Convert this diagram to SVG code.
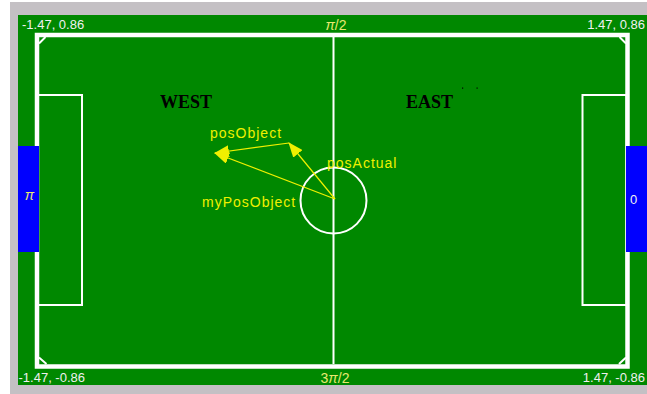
<svg xmlns="http://www.w3.org/2000/svg" width="647" height="394" viewBox="0 0 647 394">
<defs>
<style>
.line{fill:none;stroke:#ffffff;stroke-width:2}
.border{fill:none;stroke:#ffffff;stroke-width:4.5}
.coord{font-family:"Liberation Sans",Arial,sans-serif;font-size:13px;fill:#f0f0f0}
.angle{font-family:"Liberation Sans",Arial,sans-serif;font-size:14px;fill:#e8e870}
.side{font-family:"Liberation Serif","Times New Roman",serif;font-size:18px;font-weight:bold;fill:#000000}
.lbl{font-family:"Liberation Sans",Arial,sans-serif;font-size:14px;fill:#f0f000;letter-spacing:1px}
.vec{stroke:#f0f000;stroke-width:1.2;fill:none}
</style>
<marker id="ah" viewBox="0 0 15 12" refX="14" refY="6" markerWidth="15" markerHeight="12" markerUnits="userSpaceOnUse" orient="auto">
<path d="M0,0 L15,6 L0,12 Z" fill="#f0f000"/>
</marker>
</defs>
<rect x="0" y="0" width="647" height="394" fill="#ffffff"/>
<rect x="10" y="2" width="637" height="392" fill="#c4c0c4"/>
<g id="field">
<rect x="18" y="15" width="629" height="370" fill="#008800"/>
<rect x="37" y="35" width="590.5" height="331.5" class="border"/>
<line x1="333.5" y1="37" x2="333.5" y2="364" class="line"/>
<circle cx="333.5" cy="200.5" r="33" class="line"/>
<rect x="38" y="95" width="44" height="210" class="line"/>
<rect x="582.5" y="95" width="44" height="210" class="line"/>
<path d="M39,43.5 L45.5,37 M619.5,37 L626,43.5 M39,357.5 L46.5,364 M619,364 L626,357.5" class="line"/>
<rect x="462" y="87.5" width="1.2" height="1.2" fill="#000"/>
<rect x="476.5" y="87.5" width="1.2" height="1.2" fill="#000"/>
</g>
<g id="goal-west">
<rect x="18" y="146" width="21" height="106" fill="#0000ff"/>
<text x="29.5" y="200" class="angle" text-anchor="middle" font-style="italic">π</text>
</g>
<g id="goal-east">
<rect x="626" y="146" width="21" height="106" fill="#0000ff"/>
<text x="633.5" y="204" class="coord" text-anchor="middle" fill="#d0d0e8">0</text>
</g>
<g id="labels">
<text x="22" y="29" class="coord">-1.47, 0.86</text>
<text x="645" y="29" class="coord" text-anchor="end">1.47, 0.86</text>
<text x="18.5" y="382" class="coord">-1.47, -0.86</text>
<text x="645" y="382" class="coord" text-anchor="end">1.47, -0.86</text>
<text x="336" y="30" class="angle" text-anchor="middle"><tspan font-style="italic">π</tspan>/2</text>
<text x="335" y="383" class="angle" text-anchor="middle">3<tspan font-style="italic">π</tspan>/2</text>
<text x="160" y="108" class="side">WEST</text>
<text x="406" y="108" class="side">EAST</text>
</g>
<g id="connectors">
<line x1="335" y1="199" x2="289" y2="143" class="vec" marker-end="url(#ah)"/>
<line x1="289" y1="143" x2="215" y2="153" class="vec" marker-end="url(#ah)"/>
<line x1="335" y1="199" x2="215" y2="153" class="vec" marker-end="url(#ah)"/>
</g>
<g id="vector-labels">
<text x="210" y="138" class="lbl">posObject</text>
<text x="327" y="168" class="lbl">posActual</text>
<text x="202" y="207" class="lbl">myPosObject</text>
</g>
</svg>
